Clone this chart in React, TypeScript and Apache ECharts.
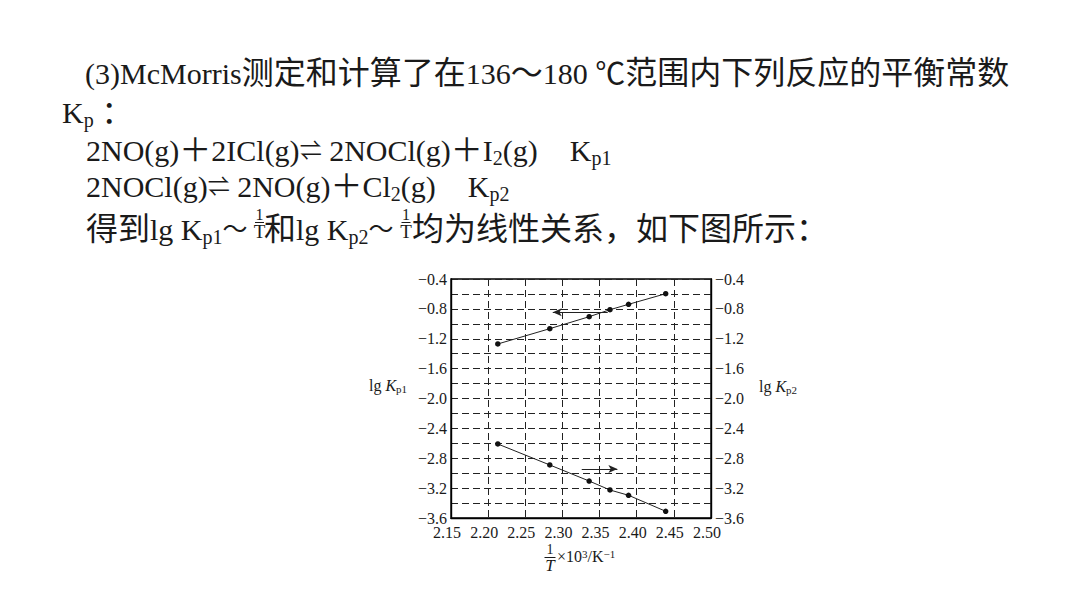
import { useEffect, useRef } from "react";
import * as echarts from "echarts";

// 1/T × 10^3 (K^-1), shared by both reactions
const invT = [2.213, 2.283, 2.336, 2.364, 2.389, 2.439];
const lgKp1 = [-1.27, -1.065, -0.905, -0.811, -0.739, -0.597];
const lgKp2 = [-2.609, -2.89, -3.105, -3.225, -3.296, -3.51];

const yTickLabels = [-3.6, -3.2, -2.8, -2.4, -2.0, -1.6, -1.2, -0.8, -0.4];
const xTickLabels = [2.15, 2.2, 2.25, 2.3, 2.35, 2.4, 2.45, 2.5];

// arrows showing which axis each line belongs to: [from, to]
const arrowKp1 = [
  [2.361, -0.846],
  [2.287, -0.846],
];
const arrowKp2 = [
  [2.326, -2.944],
  [2.374, -2.944],
];

// paragraph above the chart, as [style, text] runs
const line1: [string, string][] = [
  ["n", "(3)McMorris"],
  ["c", "测定和计算了在"],
  ["n", "136"],
  ["c", "～"],
  ["n", "180 ℃"],
  ["c", "范围内下列反应的平衡常数"],
];
const line2: [string, string][] = [
  ["n", "K"],
  ["s2", "p"],
  ["n", " "],
  ["c", "："],
];
const line3: [string, string][] = [
  ["n", "2NO(g)"],
  ["c", "＋"],
  ["n", "2ICl(g)"],
  ["h", "⇌"],
  ["n", " 2NOCl(g)"],
  ["c", "＋"],
  ["n", "I"],
  ["s", "2"],
  ["n", "(g)"],
  ["c", "　"],
  ["n", "K"],
  ["s", "p1"],
];
const line4: [string, string][] = [
  ["n", "2NOCl(g)"],
  ["h", "⇌"],
  ["n", " 2NO(g)"],
  ["c", "＋"],
  ["n", "Cl"],
  ["s", "2"],
  ["n", "(g)"],
  ["c", "　"],
  ["n", "K"],
  ["s", "p2"],
];
const line5a: [string, string][] = [
  ["c", "得到"],
  ["n", "lg K"],
  ["s", "p1"],
  ["w", "～"],
];
const line5b: [string, string][] = [
  ["c", "和"],
  ["n", "lg K"],
  ["s", "p2"],
  ["w", "～"],
];
const line5c: [string, string][] = [["c", "均为线性关系，如下图所示："]];

const SERIF = '"Liberation Serif", "Noto Sans CJK SC", serif';
const INK = "#1a1a1a";

const richText = (runs: [string, string][]) =>
  runs.map(([s, t]) => `{${s}|${t}}`).join("");

const paraRich = {
  n: { fontFamily: SERIF, fontSize: 30, lineHeight: 36, verticalAlign: "middle", fill: INK },
  c: { fontFamily: SERIF, fontSize: 32, lineHeight: 36, verticalAlign: "middle", fill: INK },
  w: { fontFamily: SERIF, fontSize: 25, lineHeight: 36, verticalAlign: "middle", fill: INK },
  h: { fontFamily: SERIF, fontSize: 22, lineHeight: 36, verticalAlign: "middle", fill: INK },
  s: { fontFamily: SERIF, fontSize: 20, lineHeight: 21, verticalAlign: "bottom", fill: INK },
  s2: { fontFamily: SERIF, fontSize: 20, lineHeight: 7, verticalAlign: "bottom", fill: INK },
};

const paraText = (runs: [string, string][], x: number, baseline: number) => ({
  type: "text",
  x,
  y: baseline - 28,
  style: {
    text: richText(runs),
    rich: paraRich,
    fill: INK,
    align: "left",
    verticalAlign: "top",
  },
});

// baseline -> y for a centred single-line text
const mid = (baseline: number, size: number) => baseline - 0.34 * size;

const plainText = (
  text: string,
  x: number,
  baseline: number,
  size: number,
  italic = false,
  align = "center"
) => ({
  type: "text",
  x,
  y: mid(baseline, size),
  style: {
    text,
    fontFamily: SERIF,
    fontSize: size,
    fontStyle: italic ? "italic" : "normal",
    fill: INK,
    align,
    verticalAlign: "middle",
  },
});

const fraction = (
  cx: number,
  numBase: number,
  barY: number,
  denBase: number,
  half: number,
  numSize: number,
  denSize: number,
  italic: boolean
) => [
  plainText("1", cx, numBase, numSize),
  {
    type: "line",
    shape: { x1: cx - half, y1: barY, x2: cx + half, y2: barY },
    style: { stroke: INK, lineWidth: 1 },
  },
  plainText("T", cx, denBase, denSize, italic),
];

const axisName = (x: number, baseline: number, sub: string) => ({
  type: "text",
  x,
  y: mid(baseline, 16),
  style: {
    text: `{a|lg }{k|K}{b|${sub}}`,
    rich: {
      a: { fontFamily: SERIF, fontSize: 16, lineHeight: 17, verticalAlign: "middle", fill: INK },
      k: { fontFamily: SERIF, fontSize: 16, fontStyle: "italic", lineHeight: 17, verticalAlign: "middle", fill: INK },
      b: { fontFamily: SERIF, fontSize: 11, lineHeight: 9, verticalAlign: "bottom", fill: INK },
    },
    align: "left",
    verticalAlign: "middle",
  },
});

const fmtNum = (v: number, digits: number) => v.toFixed(digits).replace("-", "−");

export default function App() {
  const chartRef = useRef<HTMLDivElement>(null);

  useEffect(() => {
    if (!chartRef.current) return;
    const chart = echarts.init(chartRef.current, undefined, { renderer: "svg" });

    const yAxisBase = {
      type: "value" as const,
      min: -3.6,
      max: -0.4,
      interval: 0.2,
      axisLine: { show: true, lineStyle: { color: "#000", width: 1.4 } },
      axisTick: { show: false },
      axisLabel: {
        fontFamily: SERIF,
        fontSize: 16,
        color: INK,
        margin: 4,
        formatter: (v: number) =>
          yTickLabels.some((t) => Math.abs(t - v) < 1e-6) ? fmtNum(v, 1) : "",
      },
    };

    const option: echarts.EChartsOption = {
      animation: false,
      backgroundColor: "#fff",
      grid: {
        left: 451,
        right: 369,
        top: 279,
        bottom: 90,
        show: true,
        borderColor: "#000",
        borderWidth: 1.4,
        backgroundColor: "transparent",
      },
      xAxis: {
        type: "value",
        min: 2.15,
        max: 2.5,
        interval: 0.05,
        axisLine: { show: true, lineStyle: { color: "#000", width: 1.4 } },
        axisTick: { show: false },
        axisLabel: {
          fontFamily: SERIF,
          fontSize: 16,
          color: INK,
          margin: 6,
          padding: [0, 8, 0, 0],
          formatter: (v: number) =>
            xTickLabels.some((t) => Math.abs(t - v) < 1e-6) ? v.toFixed(2) : "",
        },
        splitLine: {
          show: true,
          lineStyle: { color: "#222", width: 1, type: [7, 4] },
        },
      },
      yAxis: [
        {
          ...yAxisBase,
          position: "left",
          splitLine: {
            show: true,
            lineStyle: { color: "#222", width: 1, type: [7, 4] },
          },
        },
        {
          ...yAxisBase,
          position: "right",
          splitLine: { show: false },
        },
      ],
      series: [
        {
          name: "lg Kp1",
          type: "line",
          yAxisIndex: 0,
          data: invT.map((x, i) => [x, lgKp1[i]]),
          symbol: "circle",
          symbolSize: 5.5,
          itemStyle: { color: "#111" },
          lineStyle: { color: "#222", width: 1 },
          markLine: {
            silent: true,
            symbol: ["none", "arrow"],
            symbolSize: [6, 9],
            label: { show: false },
            lineStyle: { color: "#222", width: 1, type: "solid" },
            data: [[{ coord: arrowKp1[0] }, { coord: arrowKp1[1] }]] as any,
          },
        },
        {
          name: "lg Kp2",
          type: "line",
          yAxisIndex: 1,
          data: invT.map((x, i) => [x, lgKp2[i]]),
          symbol: "circle",
          symbolSize: 5.5,
          itemStyle: { color: "#111" },
          lineStyle: { color: "#222", width: 1 },
          markLine: {
            silent: true,
            symbol: ["none", "arrow"],
            symbolSize: [6, 9],
            label: { show: false },
            lineStyle: { color: "#222", width: 1, type: "solid" },
            data: [[{ coord: arrowKp2[0] }, { coord: arrowKp2[1] }]] as any,
          },
        },
      ],
      graphic: [
        paraText(line1, 85, 83),
        paraText(line2, 62, 122),
        paraText(line3, 86, 160),
        paraText(line4, 86, 196),
        paraText(line5a, 86, 239),
        ...fraction(259.5, 219.5, 222.5, 237.5, 4.5, 16, 19, false),
        paraText(line5b, 264, 239),
        ...fraction(406, 219.5, 222.5, 237.5, 4.5, 16, 19, false),
        paraText(line5c, 412, 239),
        axisName(369, 391, "p1"),
        axisName(759, 392, "p2"),
        // x-axis title: 1/T × 10^3 / K^-1
        ...fraction(550, 554, 557.5, 571, 5.5, 14, 17, true),
        {
          type: "text",
          x: 557,
          y: mid(562, 16),
          style: {
            text: "{m|×10}{p|3}{m|/K}{p|−1}",
            rich: {
              m: { fontFamily: SERIF, fontSize: 16, lineHeight: 16, verticalAlign: "middle", fill: INK },
              p: { fontFamily: SERIF, fontSize: 11, lineHeight: 6, verticalAlign: "top", fill: INK },
            },
            align: "left",
            verticalAlign: "middle",
          },
        },
      ] as any,
    };

    chart.setOption(option);
    return () => chart.dispose();
  }, []);

  return (
    <div
      ref={chartRef}
      style={{ position: "fixed", left: 0, top: 0, width: 1080, height: 608, background: "#fff" }}
    />
  );
}
